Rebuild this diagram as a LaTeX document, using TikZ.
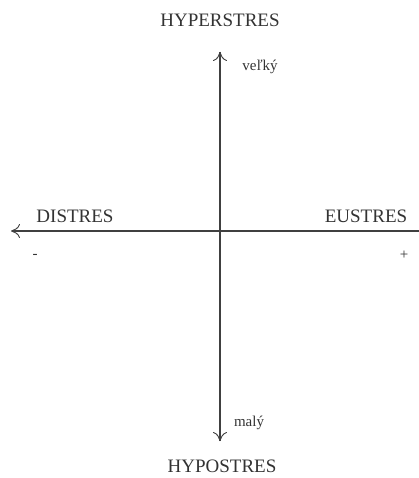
\documentclass[tikz,border=0pt]{standalone}
\usepackage{fontspec}
\setmainfont{Liberation Serif}
\usetikzlibrary{arrows.meta}
\begin{document}
\begin{tikzpicture}[x=1pt,y=-1pt,
  axis/.style={draw=black!75, line width=1.1pt},
  tip/.style={-{To[length=9pt,width=14pt,line width=0.9pt]}},
  big/.style={font=\fontsize{19}{22}\selectfont, text=black!80, inner sep=0pt},
  small/.style={font=\fontsize{15}{17}\selectfont, text=black!80, inner sep=0pt}]
\useasboundingbox (0,0) rectangle (419,478);
\coordinate (c) at (220,231);
\coordinate (top) at (220,52);
\coordinate (bot) at (220,441);
\coordinate (left) at (11,231);
\coordinate (right) at (419,231);
\draw[axis,tip] (bot) -- (top);
\draw[axis,tip] (top) -- (bot);
\draw[axis,tip] (right) -- (left);
\node[big] (hyper) at (220,20) {HYPERSTRES};
\node[big] (hypo) at (222,466) {HYPOSTRES};
\node[big] (dis) at (75,216) {DISTRES};
\node[big] (eu) at (366,216) {EUSTRES};
\node[small] (velky) at (260,67) {veľký};
\node[small] (maly) at (249,423) {malý};
\node[small] (minus) at (35,256) {-};
\node[small] (plus) at (404,255) {+};
\end{tikzpicture}
\end{document}
